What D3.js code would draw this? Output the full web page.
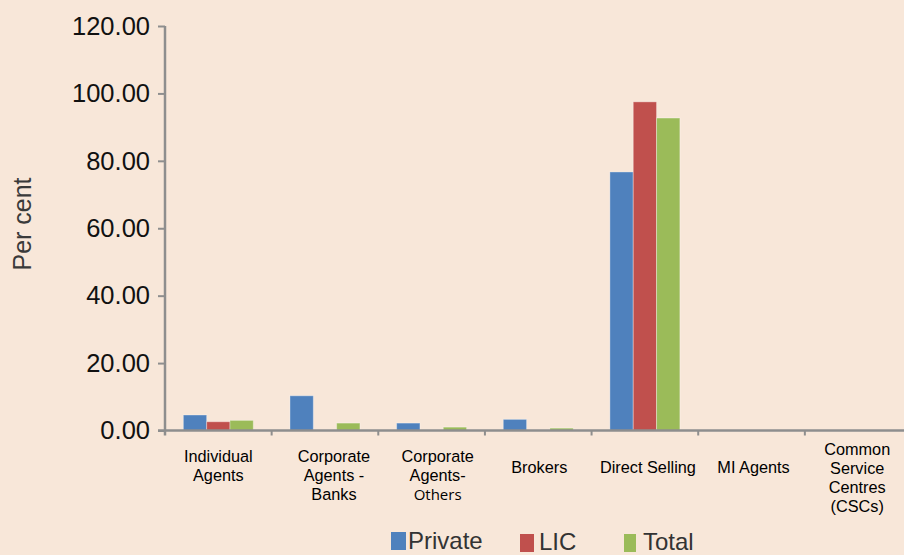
<!DOCTYPE html>
<html>
<head>
<meta charset="utf-8">
<script src="https://cdn.jsdelivr.net/npm/d3@7/dist/d3.min.js"></script>
<style>
  html, body { margin: 0; padding: 0; background: #F8E7D9; }
  svg { display: block; }
  text { font-family: "Liberation Sans", Arial, sans-serif; }
</style>
</head>
<body>
<svg id="chart" width="904" height="555"></svg>
<script>
// Channel categories (line breaks mark the wrapped label lines)
const categories = [
  "Individual\nAgents",
  "Corporate\nAgents -\nBanks",
  "Corporate\nAgents-\nOthers",
  "Brokers",
  "Direct Selling",
  "MI Agents",
  "Common\nService\nCentres\n(CSCs)"
];
const seriesNames = ["Private", "LIC", "Total"];
const privateValues = [4.6, 10.3, 2.2, 3.3, 76.7, 0, 0];
const licValues     = [2.6, 0, 0, 0, 97.5, 0, 0];
const totalValues   = [3.0, 2.2, 1.0, 0.7, 92.7, 0, 0];
const yTicks = [0, 20, 40, 60, 80, 100, 120];
const seriesColors = ["#4F81BD", "#C0504D", "#9BBB59"];

const seriesValues = [privateValues, licValues, totalValues];
const rows = categories.map((c, i) => ({
  category: c,
  values: seriesNames.map((s, k) => ({ key: s, value: seriesValues[k][i], color: seriesColors[k] }))
}));

const svg = d3.select("#chart");
const W = 904, H = 555;
const axisColor = "#8E8E8E";

svg.append("rect").attr("width", W).attr("height", H).attr("fill", "#F8E7D9");

// Plot area runs past the right edge of the canvas
const x0 = 165, x1 = 911.5;
const x = d3.scaleBand().domain(categories).range([x0, x1]).paddingInner(0).paddingOuter(0);
const bw = x.bandwidth();
const inner = d3.scaleBand().domain(seriesNames).range([bw * 0.172, bw * 0.828]).padding(0);
const y = d3.scaleLinear().domain([0, 120]).range([430.5, 26]);

// Bars
const groups = svg.append("g").selectAll("g").data(rows).join("g")
  .attr("transform", d => `translate(${x(d.category)},0)`);
groups.selectAll("rect").data(d => d.values.filter(v => v.value > 0)).join("rect")
  .attr("x", v => inner(v.key))
  .attr("width", inner.bandwidth())
  .attr("y", v => y(v.value))
  .attr("height", v => y(0) - y(v.value))
  .attr("fill", v => v.color)
  .attr("stroke", "rgba(255,255,255,0.35)")
  .attr("stroke-width", 1);

// Y axis with two-decimal tick labels
const yAxis = d3.axisLeft(y).tickValues(yTicks).tickFormat(d3.format(".2f"))
  .tickSize(7).tickPadding(8);
const gy = svg.append("g").attr("transform", `translate(${x0},0)`).call(yAxis);
gy.select(".domain").remove();
gy.selectAll(".tick line").attr("stroke", axisColor).attr("stroke-width", 2);
gy.selectAll(".tick text")
  .attr("font-family", "'Liberation Sans', Arial, sans-serif")
  .attr("font-size", 25.5).attr("fill", "#111");
svg.append("line")
  .attr("x1", x0).attr("x2", x0).attr("y1", y(120)).attr("y2", y(0) + 5)
  .attr("stroke", axisColor).attr("stroke-width", 2.5);

// X axis baseline with ticks at category boundaries
svg.append("line")
  .attr("x1", x0 - 7).attr("x2", W).attr("y1", y(0)).attr("y2", y(0))
  .attr("stroke", axisColor).attr("stroke-width", 2.5);
svg.append("g").selectAll("line").data(categories.slice(1)).join("line")
  .attr("x1", d => x(d)).attr("x2", d => x(d))
  .attr("y1", y(0)).attr("y2", y(0) + 5)
  .attr("stroke", axisColor).attr("stroke-width", 2);

// Wrapped category labels
const firstBaseline = n => (n === 1 ? 473 : n === 4 ? 455 : 462);
const labelNudge = [0, 9, 6, 1, 3, 2, -1];
const lineGap = 19;
const labels = svg.append("g").selectAll("text").data(categories).join("text")
  .attr("text-anchor", "middle")
  .attr("font-size", 16.3)
  .attr("fill", "#000")
  .attr("transform", (d, i) => `translate(${x(d) + bw / 2 + labelNudge[i]},0)`);
labels.each(function(d) {
  const lines = d.split("\n");
  const t = d3.select(this);
  const b = firstBaseline(lines.length);
  lines.forEach((ln, j) => {
    const sp = t.append("tspan").attr("x", 0).attr("y", b + j * lineGap).text(ln);
    if (ln === "Others") sp.attr("font-family", "'Open Sans', sans-serif").attr("font-size", 15);
  });
});

// Y axis title
svg.append("text")
  .attr("transform", "translate(31,224) rotate(-90)")
  .attr("text-anchor", "middle")
  .attr("font-size", 25)
  .attr("fill", "#3a3a3a")
  .text("Per cent");

// Legend
const legendX = [391, 520, 624];
const legendW = [15, 14, 12];
const legendGap = [2, 5, 7];
const legend = svg.append("g").selectAll("g").data(seriesNames).join("g")
  .attr("transform", (d, i) => `translate(${legendX[i]},0)`);
legend.append("rect")
  .attr("x", 0).attr("y", (d, i) => (i === 0 ? 532 : 534))
  .attr("width", (d, i) => legendW[i]).attr("height", 18)
  .attr("fill", (d, i) => seriesColors[i]);
legend.append("text")
  .attr("x", (d, i) => legendW[i] + legendGap[i])
  .attr("y", (d, i) => (i === 0 ? 549 : 550))
  .attr("font-size", 24)
  .attr("fill", "#333")
  .text(d => d);
</script>
</body>
</html>
